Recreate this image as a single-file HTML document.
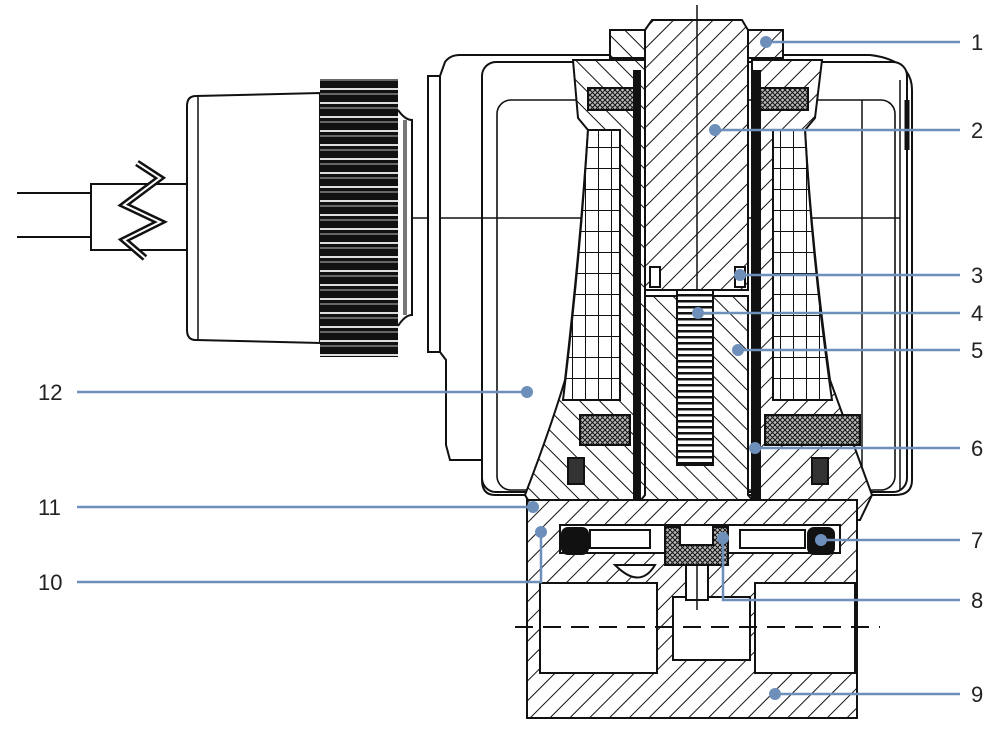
<!DOCTYPE html>
<html><head><meta charset="utf-8"><style>
html,body{margin:0;padding:0;background:#fff;}
svg{display:block}
text{font-family:"Liberation Sans",sans-serif;font-size:22px;fill:#222;}
</style></head><body>
<svg width="1000" height="730" viewBox="0 0 1000 730" xmlns="http://www.w3.org/2000/svg">
<defs>
<pattern id="h1" patternUnits="userSpaceOnUse" width="14" height="14" patternTransform="rotate(45)"><rect width="14" height="14" fill="#fff"/><line x1="0" y1="0" x2="0" y2="14" stroke="#111" stroke-width="2"/></pattern>
<pattern id="h2" patternUnits="userSpaceOnUse" width="14" height="14" patternTransform="rotate(-45)"><rect width="14" height="14" fill="#fff"/><line x1="0" y1="0" x2="0" y2="14" stroke="#111" stroke-width="2"/></pattern>
<pattern id="grid" patternUnits="userSpaceOnUse" width="13" height="21"><rect width="13" height="21" fill="#fff"/><path d="M0 0H13M0 0V21" stroke="#111" stroke-width="2"/></pattern>
<pattern id="xh" patternUnits="userSpaceOnUse" width="5" height="5"><rect width="5" height="5" fill="#bbb"/><path d="M0 0L5 5M5 0L0 5" stroke="#111" stroke-width="1"/></pattern>
<pattern id="knurl" patternUnits="userSpaceOnUse" width="80" height="14"><rect width="80" height="14" fill="#111"/><rect y="4" width="80" height="2" fill="#ddd"/><rect y="9" width="80" height="2" fill="#666"/></pattern>
<pattern id="spr" patternUnits="userSpaceOnUse" width="36" height="6"><rect width="36" height="6" fill="#fff"/><rect width="36" height="2.5" fill="#111"/></pattern>
</defs>

<g stroke="#111" fill="none" stroke-width="2">
<line x1="17" y1="193" x2="91" y2="193"/>
<line x1="17" y1="237" x2="91" y2="237"/>
<rect x="91" y="184" width="96" height="66" fill="#fff"/>
<path d="M137 163 L160 178 L124 205 L160 222 L124 240 L145 258" stroke-width="7" stroke="#111"/>
<path d="M137 163 L160 178 L124 205 L160 222 L124 240 L145 258" stroke-width="2" stroke="#fff"/>
<path d="M196 96 L320 93 L320 343 L196 340 Q187 340 187 330 L187 106 Q187 96 196 96Z" fill="#fff"/>
<line x1="198" y1="97" x2="198" y2="339" stroke-width="1.5"/>
<rect x="320" y="79" width="78" height="278" fill="url(#knurl)" stroke="none"/>
<path d="M398 110 Q405 120 412 120 L412 315 Q405 315 398 326" fill="#fff"/>
<line x1="405" y1="120" x2="405" y2="315" stroke-width="4" stroke="#777"/>
<line x1="412" y1="218" x2="480" y2="218" stroke-width="1.5"/>
<path d="M428 76 L440 76 L445 62 Q450 55 460 55 L870 55 Q912 60 912 90 L912 480 Q912 495 895 495 L495 495 Q482 495 482 480 L482 460 L450 460 L446 445 L446 360 L440 352 L428 352 Z" fill="#fff"/>
<line x1="440" y1="76" x2="440" y2="352"/>
<rect x="482" y="62" width="425" height="430" rx="14" fill="#fff"/>
<rect x="497" y="100" width="398" height="390" rx="14" fill="#fff" stroke-width="1.6"/>
<line x1="900" y1="80" x2="900" y2="490" stroke-width="1.5"/>
<line x1="907" y1="100" x2="907" y2="150" stroke-width="5"/>
<line x1="862" y1="100" x2="862" y2="490" stroke-width="1.5"/>
<line x1="440" y1="218" x2="900" y2="218" stroke-width="1.5"/>
</g>

<g stroke="#111" stroke-width="2">
<path d="M573 60 L645 60 L645 520 L540 520 L525 495 Q550 430 565 380 Q580 250 588 130 L578 118 Z" fill="url(#h2)"/>
<path d="M822 60 L752 60 L752 520 L860 520 L872 495 Q848 430 830 380 Q812 250 805 130 L815 118 Z" fill="url(#h1)"/>
<path d="M588 130 L620 130 L620 400 L563 400 Q580 260 588 130Z" fill="url(#grid)"/>
<path d="M805 130 L773 130 L773 400 L832 400 Q812 260 805 130Z" fill="url(#grid)"/>
<rect x="588" y="88" width="48" height="22" fill="url(#xh)"/>
<rect x="758" y="88" width="50" height="22" fill="url(#xh)"/>
<rect x="580" y="415" width="50" height="30" fill="url(#xh)"/>
<rect x="765" y="415" width="95" height="30" fill="url(#xh)"/>
<rect x="568" y="458" width="16" height="26" fill="#333"/>
<rect x="812" y="458" width="16" height="26" fill="#333"/>
</g>
<rect x="633" y="70" width="8" height="455" fill="#111"/>
<rect x="753" y="70" width="8" height="455" fill="#111"/>
<g stroke="#111" stroke-width="2">
<rect x="610" y="30" width="40" height="28" fill="url(#h2)"/>
<rect x="745" y="30" width="38" height="28" fill="url(#h1)"/>
<path d="M652 20 L742 20 L748 30 L748 290 L645 290 L645 30 Z" fill="url(#h1)"/>
<rect x="650" y="267" width="10" height="20" fill="#fff"/>
<rect x="735" y="267" width="10" height="20" fill="#fff"/>
<path d="M645 296 L748 296 L748 495 L770 520 L625 520 L645 495 Z" fill="url(#h2)"/>
<rect x="677" y="290" width="36" height="175" fill="url(#spr)"/>
</g>
<line x1="697" y1="5" x2="697" y2="290" stroke="#111" stroke-width="1.5"/>

<g stroke="#111" stroke-width="2">
<rect x="527" y="500" width="330" height="218" fill="url(#h1)"/>
<rect x="540" y="583" width="117" height="90" fill="#fff"/>
<rect x="755" y="583" width="100" height="90" fill="#fff"/>
<rect x="673" y="597" width="77" height="63" fill="#fff"/>
<rect x="686" y="560" width="22" height="40" fill="#fff"/>
<path d="M615 565 Q640 590 655 565Z" fill="#fff"/>
<rect x="560" y="525" width="280" height="28" fill="#fff"/>
<rect x="590" y="530" width="60" height="18" fill="#fff"/>
<rect x="740" y="530" width="65" height="18" fill="#fff"/>
<path d="M665 527 L680 527 L680 545 L713 545 L713 527 L728 527 L728 565 L665 565Z" fill="url(#xh)"/>
<rect x="562" y="528" width="26" height="26" rx="6" fill="#111"/>
<rect x="808" y="528" width="26" height="26" rx="6" fill="#111"/>
</g>
<line x1="515" y1="627" x2="880" y2="627" stroke="#111" stroke-width="2" stroke-dasharray="18 10"/>
<line x1="697" y1="565" x2="697" y2="610" stroke="#111" stroke-width="1.5"/>

<g stroke="#6f8fbb" stroke-width="2.5" fill="none">
<line x1="766" y1="42" x2="960" y2="42"/>
<line x1="715" y1="130" x2="960" y2="130"/>
<line x1="740" y1="275" x2="960" y2="275"/>
<line x1="698" y1="313" x2="960" y2="313"/>
<line x1="738" y1="350" x2="960" y2="350"/>
<line x1="755" y1="448" x2="960" y2="448"/>
<line x1="821" y1="540" x2="960" y2="540"/>
<polyline points="723,538 723,600 960,600"/>
<line x1="775" y1="694" x2="960" y2="694"/>
<line x1="77" y1="392" x2="527" y2="392"/>
<line x1="77" y1="507" x2="533" y2="507"/>
<polyline points="77,582 541,582 541,532"/>
</g>
<g fill="#6f8fbb">
<circle cx="766" cy="42" r="6"/><circle cx="715" cy="130" r="6"/><circle cx="740" cy="275" r="6"/>
<circle cx="698" cy="313" r="6"/><circle cx="738" cy="350" r="6"/><circle cx="755" cy="448" r="6"/>
<circle cx="821" cy="540" r="6"/><circle cx="723" cy="538" r="6"/><circle cx="775" cy="694" r="6"/>
<circle cx="527" cy="392" r="6"/><circle cx="533" cy="507" r="6"/><circle cx="541" cy="532" r="6"/>
</g>
<g>
<text x="971" y="50">1</text><text x="971" y="138">2</text><text x="971" y="283">3</text>
<text x="971" y="321">4</text><text x="971" y="358">5</text><text x="971" y="456">6</text>
<text x="971" y="548">7</text><text x="971" y="608">8</text><text x="971" y="702">9</text>
<text x="38" y="400">12</text><text x="38" y="515">11</text><text x="38" y="590">10</text>
</g>
</svg>
</body></html>
